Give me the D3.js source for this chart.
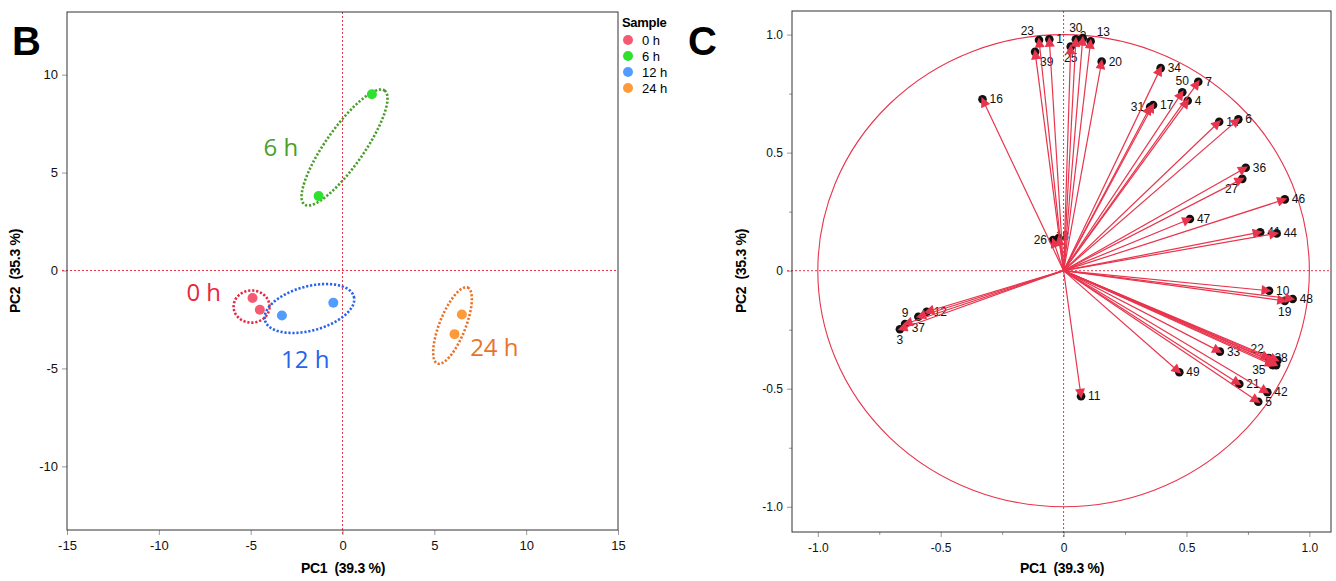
<!DOCTYPE html>
<html>
<head>
<meta charset="utf-8">
<script src="https://cdn.jsdelivr.net/npm/d3@7"></script>
<style>
  body { margin: 0; background: #fff; }
  svg { display: block; font-family: "Liberation Sans", Arial, sans-serif; }
  .tick text { fill: #111; }
</style>
</head>
<body>
<svg id="chart" width="1336" height="581"></svg>
<script>
// ---- panel B: score plot ----
const groups = ['0 h', '6 h', '12 h', '24 h'];
const groupColors = ['#f45a72', '#2fe02f', '#519dff', '#ff9a3a'];
const ellipseColors = ['#e8283f', '#4b9e2b', '#2a62ea', '#e8742c'];
const scorePC1 = [[-4.9, -4.5], [-1.3, 1.6], [-3.3, -0.5], [6.5, 6.1]];
const scorePC2 = [[-1.4, -2.0], [3.8, 9.0], [-2.3, -1.65], [-2.25, -3.25]];
// ellipse: centre, major semi-axis vector, minor semi-axis vector (data units)
const ellCentre = [[-4.95, -1.84], [0.11, 6.28], [-1.8, -1.94], [5.99, -2.81]];
const ellMajor = [[0.98, 0], [2.18, 2.91], [2.42, 0.61], [0.82, 1.94]];
const ellMinor = [[0, 0.82], [0.85, -0.56], [0.31, -1.09], [0.66, -0.24]];
const groupLabelPos = [[-8.5, -1.55], [-4.3, 5.85], [-3.35, -5.0], [6.95, -4.35]];
const scoreTicksX = [-15, -10, -5, 0, 5, 10, 15];
const scoreTicksY = [-10, -5, 0, 5, 10];

// ---- panel C: loading plot ----
const loadNames = ['23', '1', '39', '25', '30', '2', '13', '20', '16', '34', '50', '7', '4', '31', '17',
  '14', '6', '36', '27', '46', '47', '41', '44', '26', '18', '10', '48', '19', '33',
  '22', '28', '35', '29', '32', '40', '49', '21', '42', '5', '11', '3', '9', '37', '12'];
const loadPC1 = [-0.10, -0.058, -0.116, 0.029, 0.05, 0.078, 0.11, 0.155, -0.33, 0.395, 0.483, 0.548, 0.505, 0.352, 0.364,
  0.633, 0.711, 0.741, 0.727, 0.90, 0.514, 0.80, 0.867, -0.043, -0.02, 0.836, 0.932, 0.90, 0.636,
  0.835, 0.87, 0.85, 0.86, 0.855, 0.865, 0.471, 0.715, 0.829, 0.792, 0.071, -0.666, -0.645, -0.591, -0.557];
const loadPC2 = [0.977, 0.98, 0.927, 0.949, 0.98, 0.985, 0.972, 0.886, 0.726, 0.858, 0.756, 0.80, 0.72, 0.693, 0.702,
  0.631, 0.641, 0.436, 0.389, 0.302, 0.219, 0.163, 0.158, 0.13, 0.138, -0.085, -0.12, -0.128, -0.343,
  -0.37, -0.38, -0.40, -0.39, -0.385, -0.40, -0.43, -0.48, -0.515, -0.555, -0.532, -0.248, -0.226, -0.195, -0.174];
// where each label sits relative to its point ('n' = hidden under the marks in the original)
const labelSide = ['al', 'r', 'br', 'b', 'a', 'k', 'ar', 'r', 'r', 'r', 'a', 'r', 'r', 'l', 'r',
  'r', 'r', 'r', 'bl', 'r', 'r', 'r', 'r', 'l', 'k', 'r', 'r', 'b', 'r',
  'al', 'k', 'lb', 'n', 'n', 'n', 'r', 'r', 'r', 'r', 'r', 'b', 'a', 'b', 'r'];
const loadTicks = [-1, -0.5, 0, 0.5, 1];
const loadMinor = [-0.75, -0.25, 0.25, 0.75];

const RED = '#e8344c';
const svg = d3.select('#chart');
const hyphen = s => s.replace('\u2212', '-');

function styleAxis(g) {
  g.select('.domain').remove();
  g.selectAll('.tick line').attr('stroke', '#999');
  g.selectAll('.tick text').attr('font-size', 13);
}

// ================= panel B =================
const xB = d3.scaleLinear().domain([-15, 15]).range([67, 618]);
const yB = d3.scaleLinear().domain([-13.25, 13.2]).range([530, 12]);
const gB = svg.append('g');

gB.append('g').attr('transform', 'translate(0,530)')
  .call(d3.axisBottom(xB).tickValues(scoreTicksX).tickSize(5).tickPadding(6).tickFormat(d => String(d)))
  .call(styleAxis);
gB.append('g').attr('transform', 'translate(67,0)')
  .call(d3.axisLeft(yB).tickValues(scoreTicksY).tickSize(5).tickPadding(4).tickFormat(d => String(d)))
  .call(styleAxis);

// reference lines
gB.append('line').attr('x1', xB(0)).attr('x2', xB(0)).attr('y1', 12).attr('y2', 535)
  .attr('stroke', RED).attr('stroke-width', 1).attr('stroke-dasharray', '2,2');
gB.append('line').attr('x1', 62).attr('x2', 618).attr('y1', yB(0)).attr('y2', yB(0))
  .attr('stroke', RED).attr('stroke-width', 1).attr('stroke-dasharray', '2,2');

gB.append('rect').attr('x', 67).attr('y', 12).attr('width', 551).attr('height', 518)
  .attr('fill', 'none').attr('stroke', '#333').attr('stroke-width', 1);

// ellipses
const ellLine = d3.line().x(d => xB(d[0])).y(d => yB(d[1])).curve(d3.curveLinearClosed);
groups.forEach((gname, i) => {
  const pts = d3.range(0, 120).map(k => {
    const t = k / 120 * 2 * Math.PI;
    return [
      ellCentre[i][0] + Math.cos(t) * ellMajor[i][0] + Math.sin(t) * ellMinor[i][0],
      ellCentre[i][1] + Math.cos(t) * ellMajor[i][1] + Math.sin(t) * ellMinor[i][1]
    ];
  });
  gB.append('path').attr('d', ellLine(pts)).attr('fill', 'none')
    .attr('stroke', ellipseColors[i]).attr('stroke-width', 2.6).attr('stroke-dasharray', '2.2,1.8');
});

// points
groups.forEach((gname, i) => {
  scorePC1[i].forEach((v, j) => {
    gB.append('circle').attr('cx', xB(v)).attr('cy', yB(scorePC2[i][j])).attr('r', 5)
      .attr('fill', groupColors[i]);
  });
  gB.append('text').attr('x', xB(groupLabelPos[i][0])).attr('y', yB(groupLabelPos[i][1]))
    .attr('font-family', '"Open Sans", "Noto Sans", sans-serif').attr('font-size', 24)
    .attr('fill', ellipseColors[i]).text(gname);
});

// legend
const leg = gB.append('g').attr('transform', 'translate(622,0)');
leg.append('text').attr('x', 0).attr('y', 27).attr('font-size', 13).attr('font-weight', 'bold')
  .attr('letter-spacing', -0.3).text('Sample');
groups.forEach((gname, i) => {
  leg.append('circle').attr('cx', 6).attr('cy', 40 + i * 16).attr('r', 5).attr('fill', groupColors[i]);
  leg.append('text').attr('x', 20).attr('y', 45 + i * 16).attr('font-size', 13).text(gname);
});

gB.append('text').attr('x', 343).attr('y', 573).attr('text-anchor', 'middle')
  .attr('font-size', 14).attr('font-weight', 'bold').attr('letter-spacing', -0.3)
  .attr('xml:space', 'preserve').text('PC1  (39.3 %)');
gB.append('text').attr('transform', 'translate(20,271) rotate(-90)').attr('text-anchor', 'middle')
  .attr('font-size', 14).attr('font-weight', 'bold').attr('letter-spacing', -0.3)
  .attr('xml:space', 'preserve').text('PC2  (35.3 %)');

svg.append('text').attr('x', 12).attr('y', 55).attr('font-size', 40).attr('font-weight', 'bold').text('B');
svg.append('text').attr('x', 688).attr('y', 55).attr('font-size', 40).attr('font-weight', 'bold').text('C');

// ================= panel C =================
const xC = d3.scaleLinear().domain([-1.105, 1.088]).range([792, 1331]);
const yC = d3.scaleLinear().domain([-1.107, 1.1]).range([532, 11]);
const gC = svg.append('g');
const fmtC = d => d === 0 ? '0' : hyphen(d3.format('.1f')(d));

gC.append('g').attr('transform', 'translate(0,532)')
  .call(d3.axisBottom(xC).tickValues(loadTicks).tickSize(5).tickPadding(6).tickFormat(fmtC))
  .call(styleAxis);
gC.append('g').attr('transform', 'translate(0,532)')
  .call(d3.axisBottom(xC).tickValues(loadMinor).tickSize(3).tickFormat(''))
  .call(styleAxis);
gC.append('g').attr('transform', 'translate(792,0)')
  .call(d3.axisLeft(yC).tickValues(loadTicks).tickSize(5).tickPadding(4).tickFormat(fmtC))
  .call(styleAxis);
gC.append('g').attr('transform', 'translate(792,0)')
  .call(d3.axisLeft(yC).tickValues(loadMinor).tickSize(3).tickFormat(''))
  .call(styleAxis);
gC.selectAll('.tick text').attr('font-size', 12);

gC.append('line').attr('x1', xC(0)).attr('x2', xC(0)).attr('y1', 11).attr('y2', 537)
  .attr('stroke', RED).attr('stroke-width', 1).attr('stroke-dasharray', '2,2');
gC.append('line').attr('x1', 787).attr('x2', 1331).attr('y1', yC(0)).attr('y2', yC(0))
  .attr('stroke', RED).attr('stroke-width', 1).attr('stroke-dasharray', '2,2');

// unit circle
gC.append('ellipse').attr('cx', xC(0)).attr('cy', yC(0))
  .attr('rx', xC(1) - xC(0)).attr('ry', yC(0) - yC(1))
  .attr('fill', 'none').attr('stroke', RED).attr('stroke-width', 1.1);

gC.append('rect').attr('x', 792).attr('y', 11).attr('width', 539).attr('height', 521)
  .attr('fill', 'none').attr('stroke', '#333').attr('stroke-width', 1);

svg.append('defs').append('marker').attr('id', 'arrow')
  .attr('viewBox', '0 0 10 10').attr('refX', 7.5).attr('refY', 5)
  .attr('markerWidth', 11).attr('markerHeight', 10).attr('markerUnits', 'userSpaceOnUse')
  .attr('orient', 'auto')
  .append('path').attr('d', 'M0,0 L10,5 L0,10 Z').attr('fill', RED);

const loadings = loadNames.map((n, i) => ({ name: n, x: loadPC1[i], y: loadPC2[i], side: labelSide[i] }));

const off = {
  r: [7, 4, 'start'], l: [-6, 4, 'end'], a: [0, -7, 'middle'], b: [0, 15, 'middle'],
  al: [-5, -5, 'end'], ar: [6, -5, 'start'], bl: [-4, 14, 'end'], br: [5, 14, 'start'],
  lb: [-7, 9, 'end'], k: [-3, 2, 'start']
};
gC.selectAll('.lab').data(loadings.filter(d => d.side !== 'n')).enter().append('text')
  .attr('class', 'lab')
  .attr('x', d => xC(d.x) + off[d.side][0])
  .attr('y', d => yC(d.y) + off[d.side][1])
  .attr('text-anchor', d => off[d.side][2])
  .attr('font-size', 12).attr('fill', '#111')
  .text(d => d.name);

gC.selectAll('.dot').data(loadings).enter().append('circle')
  .attr('cx', d => xC(d.x))
  .attr('cy', d => yC(d.y))
  .attr('r', 4.3).attr('fill', '#111');

gC.selectAll('.vec').data(loadings).enter().append('line')
  .attr('x1', xC(0)).attr('y1', yC(0))
  .attr('x2', d => xC(d.x)).attr('y2', d => yC(d.y))
  .attr('stroke', RED).attr('stroke-width', 1.2)
  .attr('marker-end', 'url(#arrow)');

svg.append('text').attr('x', 1062).attr('y', 573).attr('text-anchor', 'middle')
  .attr('font-size', 14).attr('font-weight', 'bold').attr('letter-spacing', -0.3)
  .attr('xml:space', 'preserve').text('PC1  (39.3 %)');
svg.append('text').attr('transform', 'translate(746,271) rotate(-90)').attr('text-anchor', 'middle')
  .attr('font-size', 14).attr('font-weight', 'bold').attr('letter-spacing', -0.3)
  .attr('xml:space', 'preserve').text('PC2  (35.3 %)');
</script>
</body>
</html>
